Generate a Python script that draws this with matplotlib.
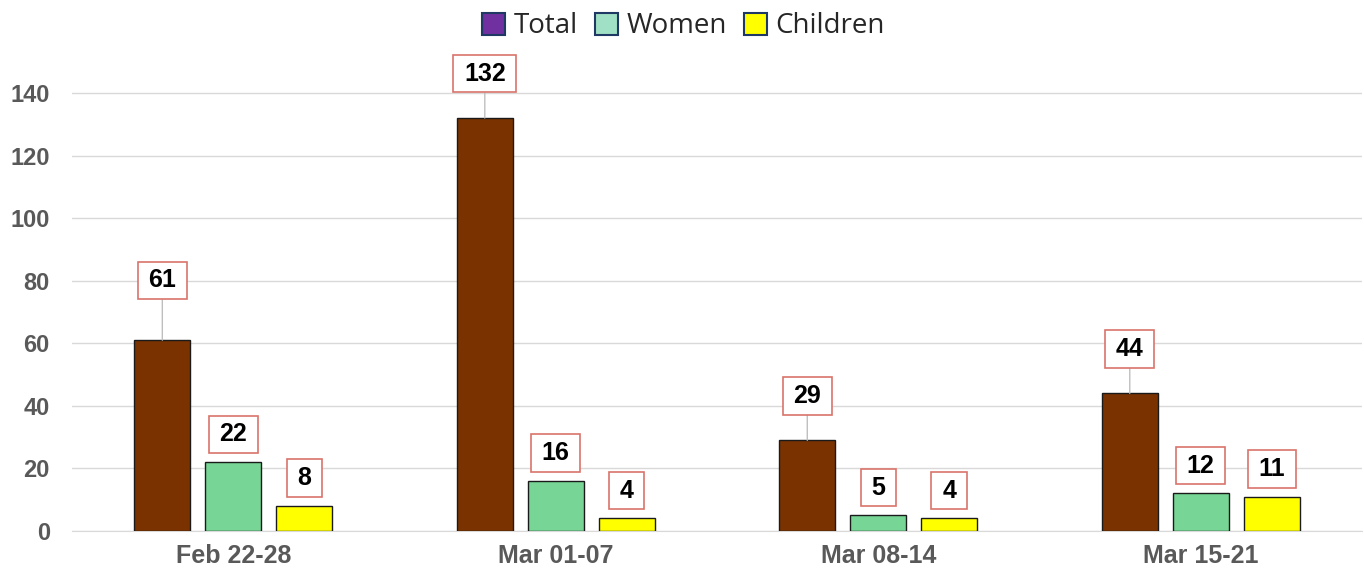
import numpy as np
import matplotlib
matplotlib.use("Agg")
import matplotlib.pyplot as plt
from matplotlib.patches import Patch
from matplotlib.path import Path

# data
weeks = ["Feb 22-28", "Mar 01-07", "Mar 08-14", "Mar 15-21"]
total = [61, 132, 29, 44]
women = [22, 16, 5, 12]
children = [8, 4, 4, 11]

series_names = ["Total", "Women", "Children"]
bar_colors = ["#7a3300", "#77d596", "#ffff00"]
legend_colors = ["#7030a0", "#a0e0c4", "#ffff00"]


def label_box(x0, y0, w, h, mutation_size):
    # rectangle with more padding left/right than top/bottom
    px = 0.43 * mutation_size
    py = 0.27 * mutation_size
    x0, y0 = x0 - px, y0 - py
    x1, y1 = x0 + w + 2 * px, y0 + h + 2 * py
    return Path([(x0, y0), (x1, y0), (x1, y1), (x0, y1), (x0, y0)], closed=True)


fig = plt.figure(figsize=(13.64, 5.79), dpi=100)
ax = fig.add_axes([0.0528, 0.0829, 0.9457, 0.8105])

x = np.arange(len(weeks))
width = 0.174
step = 0.22

for i, (vals, col) in enumerate(zip([total, women, children], bar_colors)):
    pos = x + (i - 1) * step
    bars = ax.bar(pos, vals, width, color=col, edgecolor="#1a1a1a", linewidth=1.0, zorder=3)
    for j, (bx, v) in enumerate(zip(pos, vals)):
        if i == 0:
            # total labels sit higher, with a thin leader line
            off = 43 if j == 0 else 32
            arrow = dict(arrowstyle="-", color="#bfbfbf", lw=1, shrinkA=0, shrinkB=0)
        else:
            off = 20
            arrow = None
        ax.annotate(str(v), xy=(bx, v), xytext=(0, off), textcoords="offset points",
                    ha="center", va="center", fontsize=18, fontweight="bold",
                    family="Liberation Sans", color="#000000",
                    bbox=dict(boxstyle=label_box, fc="white", ec="#d9736b", lw=1.2),
                    arrowprops=arrow, zorder=5)

ax.set_xlim(-0.5, len(weeks) - 0.5)
ax.set_ylim(0, 150)
ax.set_yticks(range(0, 141, 20))
ax.set_xticks(x)
ax.set_xticklabels(weeks)
ax.grid(axis="y", color="#d9d9d9", linewidth=1, zorder=0)
ax.tick_params(axis="x", length=0, labelsize=18, labelcolor="#595959", pad=9)
ax.tick_params(axis="y", length=0, labelsize=17, labelcolor="#595959", pad=16)
for lab in ax.get_xticklabels() + ax.get_yticklabels():
    lab.set_fontweight("bold")
    lab.set_family("Liberation Sans")
for s in ["top", "right", "left"]:
    ax.spines[s].set_visible(False)
ax.spines["bottom"].set_color("#d9d9d9")

handles = [Patch(facecolor=c, edgecolor="#1f3864", linewidth=1.5, label=n)
           for c, n in zip(legend_colors, series_names)]
fig.legend(handles=handles, loc="upper center", bbox_to_anchor=(0.501, 1.022), ncol=3,
           frameon=False, prop={"family": "Open Sans", "size": 20},
           handlelength=0.85, handleheight=0.85, handletextpad=0.3, columnspacing=0.6,
           labelcolor="#262626")

fig.savefig("out.png", dpi=100)
